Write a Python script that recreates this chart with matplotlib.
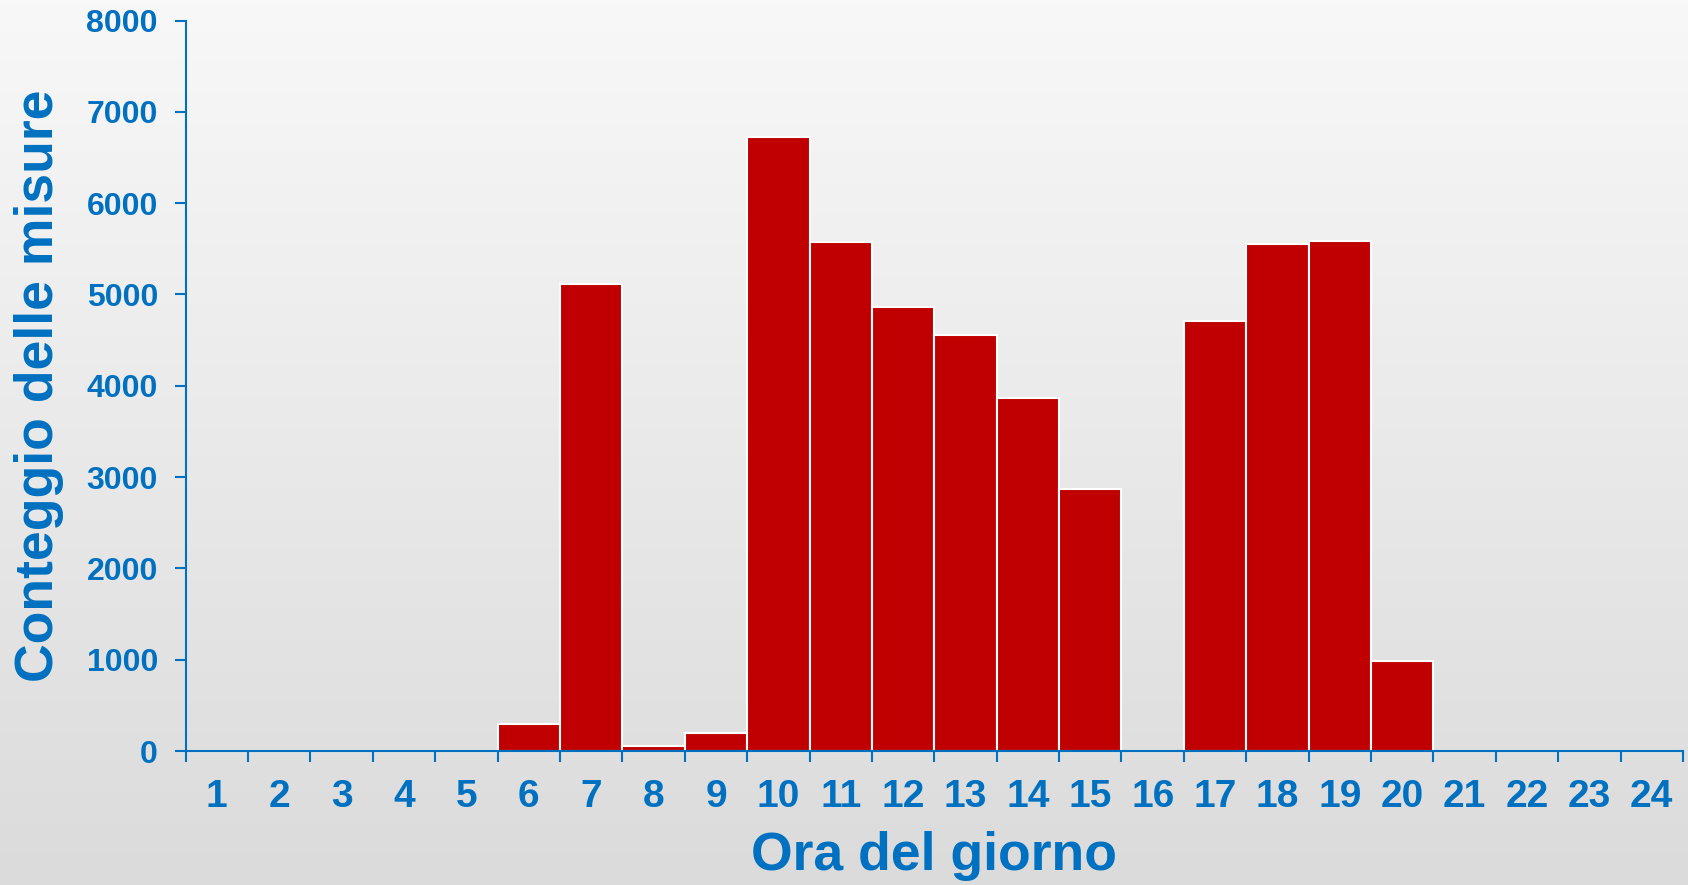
import numpy as np
import matplotlib
matplotlib.use("Agg")
import matplotlib.pyplot as plt
from matplotlib.colors import LinearSegmentedColormap

plt.rcParams['font.family'] = ['Liberation Sans', 'DejaVu Sans']

hours = list(range(1, 25))
counts = [0, 0, 0, 0, 0, 300, 5120, 50, 200, 6725, 5575, 4865, 4560, 3865,
          2865, 0, 4710, 5550, 5585, 990, 0, 0, 0, 0]
y_ticks = [0, 1000, 2000, 3000, 4000, 5000, 6000, 7000, 8000]

blue = "#0070C0"
red = "#C00000"

fig = plt.figure(figsize=(16.88, 8.85), dpi=100)

# background gradient
bg = fig.add_axes([0, 0, 1, 1], zorder=-10)
grad = np.linspace(0, 1, 256).reshape(-1, 1)
bg_cmap = LinearSegmentedColormap.from_list("bg", ["#f8f8f8", "#dbdbdb"])
bg.imshow(grad, aspect="auto", cmap=bg_cmap, extent=(0, 1, 0, 1), origin="upper")
bg.axis("off")

ax = fig.add_axes([0.110, 0.1514, 0.887, 0.8254])
ax.set_facecolor("none")

ax.bar(hours, counts, width=1.0, color=red, edgecolor="white", linewidth=1.5)

ax.set_xlim(0.5, 24.5)
ax.set_ylim(0, 8000)

# ticks on bin edges, labels in the middle
ax.set_xticks(np.arange(0.5, 25, 1))
ax.set_xticklabels([])
ax.set_xticks(hours, minor=True)
ax.set_xticklabels([str(h) for h in hours], minor=True)
ax.tick_params(axis="x", which="major", direction="out", length=8, width=1.5, color=blue)
ax.tick_params(axis="x", which="minor", length=0, pad=20, labelsize=28, labelcolor=blue)
for lbl in ax.get_xticklabels(minor=True):
    lbl.set_fontweight("bold")

ax.set_yticks(y_ticks)
ax.set_yticklabels([str(v) for v in y_ticks], fontweight="bold")
ax.tick_params(axis="y", direction="out", length=8, width=1.5, color=blue,
               labelsize=23, labelcolor=blue, pad=12)

for s in ["top", "right"]:
    ax.spines[s].set_visible(False)
for s in ["left", "bottom"]:
    ax.spines[s].set_color(blue)
    ax.spines[s].set_linewidth(1.5)

ax.set_xlabel("Ora del giorno", fontsize=38.5, fontweight="bold", color=blue, labelpad=12)
ax.set_ylabel("Conteggio delle misure", fontsize=38.5, fontweight="bold", color=blue, labelpad=16)

fig.savefig("out.png", dpi=100)
